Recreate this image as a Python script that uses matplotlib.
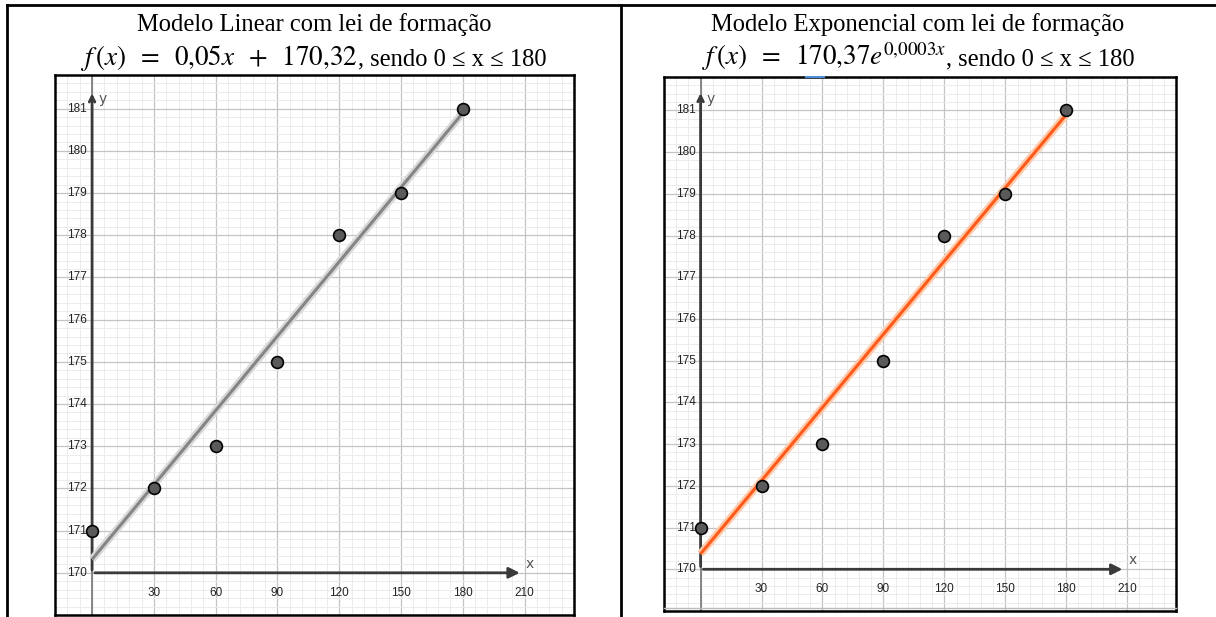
import matplotlib.pyplot as plt
from matplotlib.lines import Line2D
import numpy as np

plt.rcParams['mathtext.fontset'] = 'stix'

# --- DADOS ---
x_pontos = [0, 30, 60, 90, 120, 150, 180]
y_pontos = [171, 172, 173, 175, 178, 179, 181]

# retas desenhadas (extremos)
linear_x = [0, 180]
linear_y = [170.32, 180.9]
expo_x = [0, 180]
expo_y = [170.37, 180.9]

x_ticks = [30, 60, 90, 120, 150, 180, 210]
y_ticks = [170, 171, 172, 173, 174, 175, 176, 177, 178, 179, 180, 181]

titulo_linear = ["Modelo Linear com lei de formação",
                 r"$f\,(x)\;\;=\;\;0{,}05x\;\;+\;\;170{,}32$", ", sendo 0 ≤ x ≤ 180"]
titulo_expo = ["Modelo Exponencial com lei de formação",
               r"$f\,(x)\;\;=\;\;170{,}37e^{0{,}0003x}$", ", sendo 0 ≤ x ≤ 180"]

W, H = 1216, 617
fig = plt.figure(figsize=(W / 100, H / 100), dpi=100)
rend = fig.canvas.get_renderer()


def caixa(x0, y0, x1, y1):
    return [x0 / W, 1 - y1 / H, (x1 - x0) / W, (y1 - y0) / H]


def painel(rect, xlim, ylim, lx, ly, cor, halo):
    ax = fig.add_axes(rect)
    ax.set_xlim(*xlim)
    ax.set_ylim(*ylim)
    ax.set_xticks(np.arange(0, 240, 30))
    ax.set_xticks(np.arange(-18, 240, 6), minor=True)
    ax.set_yticks(np.arange(169, 182, 1))
    ax.set_yticks(np.arange(169, 182, 0.2), minor=True)
    ax.grid(which='minor', color='#ececec', lw=0.7)
    ax.grid(which='major', color='#c4c4c4', lw=0.9)
    ax.tick_params(which='both', length=0, labelbottom=False, labelleft=False)
    ax.set_axisbelow(True)
    for s in ax.spines.values():
        s.set_linewidth(1.8)
        s.set_color('black')

    ax.axvline(0, color='#777777', lw=1.2, zorder=1)
    # eixos
    ax.annotate('', xy=(209, 170), xytext=(0, 170),
                arrowprops=dict(arrowstyle='-|>', color='#3a3a3a', lw=2, mutation_scale=16), zorder=3)
    ax.annotate('', xy=(0, ylim[1] - 0.02), xytext=(0, 170),
                arrowprops=dict(arrowstyle='->', color='#3a3a3a', lw=2, mutation_scale=10), zorder=3)
    ax.text(210.5, 170.05, 'x', fontsize=10, color='#555555', ha='left', va='bottom')
    ax.text(3, ylim[1] - 0.05, 'y', fontsize=10, color='#555555', ha='left', va='top')

    for t in x_ticks:
        ax.text(t, 169.53, str(t), fontsize=8.5, family='Liberation Sans', color='#222222',
                ha='center', va='center')
    for t in y_ticks:
        ax.text(-2.5, t, str(t), fontsize=8.5, family='Liberation Sans', color='#222222',
                ha='right', va='center')

    ax.plot(lx, ly, color=halo, lw=5.5, solid_capstyle='butt', zorder=4)
    ax.plot(lx, ly, color=cor, lw=2.2, solid_capstyle='butt', zorder=5)
    ax.plot(x_pontos, y_pontos, 'o', ms=8.5, mfc='#5a5a5a', mec='black', mew=1.2,
            zorder=6, clip_on=False)
    return ax


painel(caixa(55, 75, 574, 615), (-14.6, 217.7), (169.29, 181.45),
       linear_x, linear_y, '#858585', '#d8d8d8')
painel(caixa(664, 77, 1176, 611), (-16, 219.6), (169.32, 181.5),
       expo_x, expo_y, '#ff5a1a', '#ffc9aa')

# titulos (centrados na celula da tabela)
fontes = ['Liberation Serif', 'DejaVu Serif']


def largura(t):
    return t.get_window_extent(rend).width


t_ref = fig.text(0, 0, titulo_linear[0], fontsize=16, family=fontes)
fs = 16 * 356 / largura(t_ref)
t_ref.remove()


def titulo(cx, linhas):
    fig.text(cx / W, 1 - 31 / H, linhas[0], fontsize=fs, family=fontes,
             ha='center', va='baseline')
    t2 = fig.text(0, 1 - 65 / H, linhas[1], fontsize=fs * 1.1, ha='left', va='baseline')
    t3 = fig.text(0, 1 - 65 / H, linhas[2], fontsize=fs, family=fontes, ha='left', va='baseline')
    w2, w3 = largura(t2), largura(t3)
    x0 = cx - (w2 + w3) / 2
    t2.set_x(x0 / W)
    t3.set_x((x0 + w2) / W)


titulo(314, titulo_linear)
titulo(918, titulo_expo)

# bordas da tabela
fig.add_artist(Line2D([7 / W, 1], [1 - 5 / H, 1 - 5 / H], color='black', lw=2))
fig.add_artist(Line2D([7 / W, 7 / W], [0, 1 - 5 / H], color='black', lw=2))
fig.add_artist(Line2D([621 / W, 621 / W], [0, 1 - 5 / H], color='black', lw=2))
# detalhes do print do grafico
fig.add_artist(Line2D([806 / W, 824 / W], [1 - 77 / H, 1 - 77 / H], color='#4a8fd8', lw=1.5))
fig.add_artist(Line2D([664 / W, 1176 / W], [1 - 608 / H, 1 - 608 / H], color='#bbbbbb', lw=1))

fig.savefig('out.png', dpi=100)
